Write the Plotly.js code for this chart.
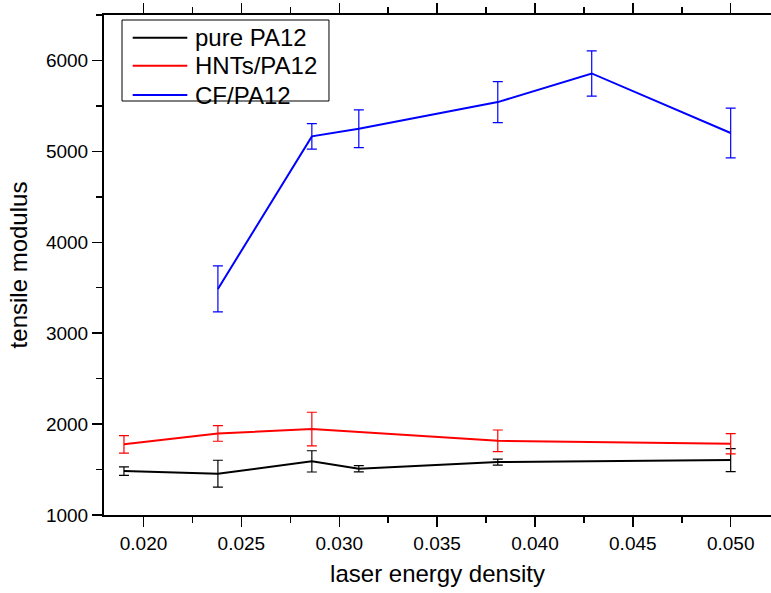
<!DOCTYPE html>
<html>
<head>
<meta charset="utf-8">
<script src="https://cdn.plot.ly/plotly-3.0.1.min.js"></script>
<style>html,body{margin:0;padding:0;background:#fff;}#chart{width:771px;height:593px;}</style>
</head>
<body>
<div id="chart"></div>
<script>
// laser energy density values
const xPure = [0.019, 0.0238, 0.0286, 0.031, 0.0381, 0.050];
const yPure = [1483, 1454, 1590, 1509, 1582, 1604];
const ePure = [47, 148, 117, 35, 33, 127];

const xHNT = [0.019, 0.0238, 0.0286, 0.0381, 0.050];
const yHNT = [1777, 1897, 1945, 1816, 1784];
const eHNT = [96, 86, 185, 119, 112];

const xCF = [0.0238, 0.0286, 0.031, 0.0381, 0.0429, 0.050];
const yCF = [3487, 5165, 5249, 5542, 5857, 5202];
const eCF = [253, 140, 207, 225, 249, 273];

const names = ['pure PA12', 'HNTs/PA12', 'CF/PA12'];
const colors = ['#000000', '#ff0000', '#0000ff'];

const xs = [xPure, xHNT, xCF];
const ys = [yPure, yHNT, yCF];
const es = [ePure, eHNT, eCF];

const traces = names.map((n, i) => ({
  type: 'scatter',
  mode: 'lines',
  name: n,
  x: xs[i],
  y: ys[i],
  line: {color: colors[i], width: 2},
  error_y: {type: 'data', array: es[i], visible: true, color: colors[i], thickness: 1.2, width: 5}
}));

const font = 'Liberation Sans, Arial, sans-serif';

// legend drawn in paper coordinates
const legBox = {x0: 0.027, x1: 0.3373, y0: 0.828, y1: 0.99};
const legLineX = [0.043, 0.1249];
const legTextX = 0.1334;
const legY = [0.9546, 0.8986, 0.840];

const shapes = [{
  type: 'rect', xref: 'paper', yref: 'paper',
  x0: legBox.x0, x1: legBox.x1, y0: legBox.y0, y1: legBox.y1,
  line: {color: '#000', width: 1}, fillcolor: '#fff', layer: 'above'
}];
const annotations = [];
names.forEach((n, i) => {
  shapes.push({
    type: 'line', xref: 'paper', yref: 'paper',
    x0: legLineX[0], x1: legLineX[1], y0: legY[i], y1: legY[i],
    line: {color: colors[i], width: 2}, layer: 'above'
  });
  annotations.push({
    xref: 'paper', yref: 'paper', x: legTextX, y: legY[i],
    xanchor: 'left', yanchor: 'middle', showarrow: false,
    text: n, font: {family: font, size: 24, color: '#000'}
  });
});

const layout = {
  width: 771, height: 593,
  margin: {l: 104, r: 0, t: 15, b: 78},
  paper_bgcolor: '#fff', plot_bgcolor: '#fff',
  font: {family: font, color: '#000'},
  showlegend: false,
  shapes: shapes,
  annotations: annotations,
  xaxis: {
    range: [0.01798, 0.05206],
    tick0: 0.02, dtick: 0.005, tickformat: '.3f',
    ticks: 'outside', ticklen: 10, tickwidth: 1.5, tickcolor: '#000',
    minor: {ticks: 'outside', ticklen: 6, tickwidth: 1.5, tickcolor: '#000', dtick: 0.0025, tick0: 0.02},
    showline: true, linecolor: '#000', linewidth: 2, mirror: 'ticks',
    showgrid: false, zeroline: false,
    tickfont: {family: font, size: 19, color: '#000'},
    title: {text: 'laser energy density', font: {family: font, size: 24, color: '#000'}, standoff: 12}
  },
  yaxis: {
    range: [1000, 6500],
    tick0: 1000, dtick: 1000,
    ticks: 'outside', ticklen: 10, tickwidth: 1.5, tickcolor: '#000',
    minor: {ticks: 'outside', ticklen: 6, tickwidth: 1.5, tickcolor: '#000', dtick: 500, tick0: 1000},
    showline: true, linecolor: '#000', linewidth: 2,
    showgrid: false, zeroline: false,
    tickfont: {family: font, size: 19, color: '#000'},
    title: {text: 'tensile modulus', font: {family: font, size: 24, color: '#000'}, standoff: 12}
  }
};

Plotly.newPlot('chart', traces, layout, {displayModeBar: false, staticPlot: true});
</script>
</body>
</html>
